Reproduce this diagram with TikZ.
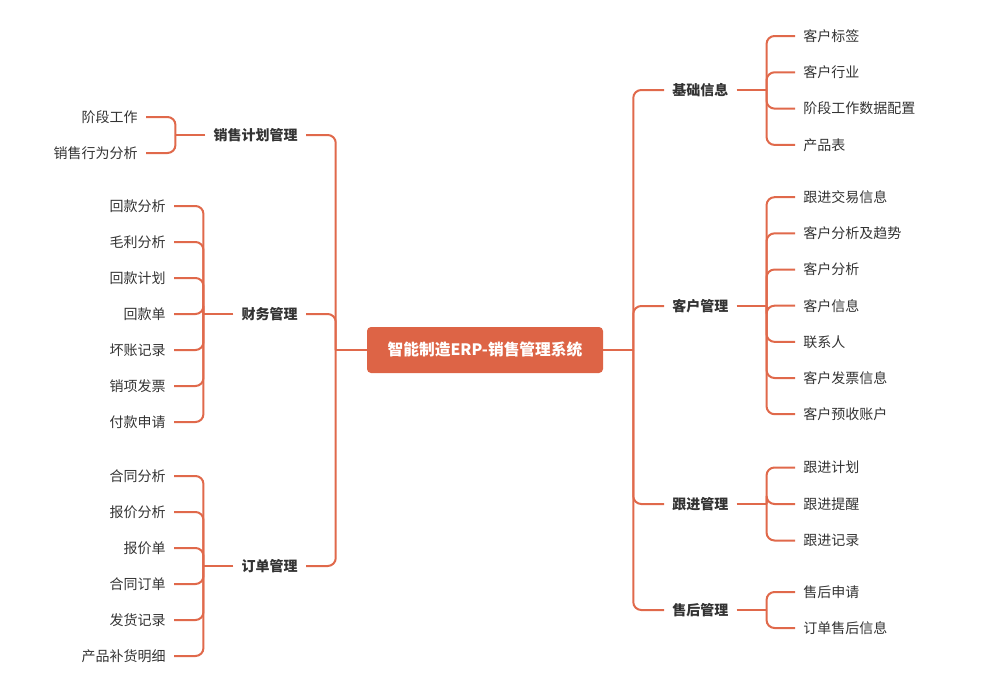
\documentclass[tikz,border=0pt]{standalone}
\usepackage{fontspec}
\setmainfont{Noto Sans CJK SC}
\usetikzlibrary{positioning}
\definecolor{mapline}{HTML}{E0694B}
\definecolor{maproot}{HTML}{DD6446}
\definecolor{maptext}{HTML}{333333}
\tikzset{
  font=\fontsize{10.5}{12}\selectfont,
  link/.style={draw=mapline, line width=1.5pt},
  elbow/.style={link, rounded corners=6pt},
  root/.style={fill=maproot, rounded corners=3pt, text=white, inner sep=0pt,
    minimum width=177pt, minimum height=34.5pt, font=\fontsize{11.8}{13}\selectfont\bfseries},
  topic/.style={text=maptext, inner xsep=6pt, inner ysep=2pt, font=\fontsize{10.5}{12}\selectfont\bfseries},
  leaf/.style={text=maptext, inner xsep=6pt, inner ysep=2pt},
}
\begin{document}
\begin{tikzpicture}[x=0.75pt,y=-0.75pt]
\useasboundingbox (0,0) rectangle (1003,696);
% root
\node[root] (sys) at (485,350) {智能制造ERP-销售管理系统};
% left topics
\node[topic, anchor=east] (plan) at (306,135) {销售计划管理};
\node[topic, anchor=east] (fin)  at (306,314) {财务管理};
\node[topic, anchor=east] (ord)  at (306,566) {订单管理};
% right topics
\node[topic, anchor=west] (base)  at (664,90)  {基础信息};
\node[topic, anchor=west] (cust)  at (664,306) {客户管理};
\node[topic, anchor=west] (foll)  at (664,504) {跟进管理};
\node[topic, anchor=west] (after) at (664,610) {售后管理};
% junction points
\path (sys.west) ++(-31,0) coordinate (sysL);
\path (sys.east) ++(30,0) coordinate (sysR);
\foreach \t in {plan,fin,ord} \path (\t.west) ++(-30,0) coordinate (\t J);
\foreach \t in {base,cust,foll,after} \path (\t.east) ++(30,0) coordinate (\t J);
% trunk
\draw[link] (sys.west) -- (sysL);
\draw[link] (sys.east) -- (sysR);
\foreach \t in {plan,fin,ord} \draw[elbow] (sysL) |- (\t.east);
\foreach \t in {base,cust,foll,after} \draw[elbow] (sysR) |- (\t.west);
\foreach \t in {plan,fin,ord} \draw[link] (\t.west) -- (\t J);
\foreach \t in {base,cust,foll,after} \draw[link] (\t.east) -- (\t J);
% left leaves
\foreach \txt [count=\i] in {阶段工作,销售行为分析} {
  \node[leaf, anchor=east] (plan\i) at (146,81+36*\i) {\txt};
  \draw[elbow] (planJ) |- (plan\i.east);
}
\foreach \txt [count=\i] in {回款分析,毛利分析,回款计划,回款单,坏账记录,销项发票,付款申请} {
  \node[leaf, anchor=east] (fin\i) at (174,170+36*\i) {\txt};
  \draw[elbow] (finJ) |- (fin\i.east);
}
\foreach \txt [count=\i] in {合同分析,报价分析,报价单,合同订单,发货记录,产品补货明细} {
  \node[leaf, anchor=east] (ord\i) at (174,440+36*\i) {\txt};
  \draw[elbow] (ordJ) |- (ord\i.east);
}
% right leaves
\foreach \txt [count=\i] in {客户标签,客户行业,阶段工作数据配置,产品表} {
  \node[leaf, anchor=west] (base\i) at (795,-0.3+36.3*\i) {\txt};
  \draw[elbow] (baseJ) |- (base\i.west);
}
\foreach \txt [count=\i] in {跟进交易信息,客户分析及趋势,客户分析,客户信息,联系人,客户发票信息,客户预收账户} {
  \node[leaf, anchor=west] (cust\i) at (795,161+36.17*\i) {\txt};
  \draw[elbow] (custJ) |- (cust\i.west);
}
\foreach \txt [count=\i] in {跟进计划,跟进提醒,跟进记录} {
  \node[leaf, anchor=west] (foll\i) at (795,431+36.5*\i) {\txt};
  \draw[elbow] (follJ) |- (foll\i.west);
}
\foreach \txt [count=\i] in {售后申请,订单售后信息} {
  \node[leaf, anchor=west] (after\i) at (795,556+36*\i) {\txt};
  \draw[elbow] (afterJ) |- (after\i.west);
}
\end{tikzpicture}
\end{document}
